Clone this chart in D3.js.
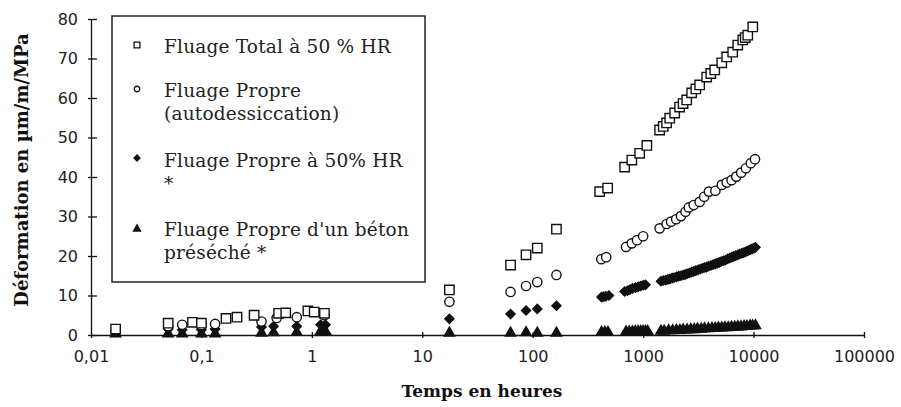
<!DOCTYPE html>
<meta charset="utf-8">
<title>Fluage</title>
<style>
body { margin: 0; background: #fff; }
.tick text { font: 16px "DejaVu Sans", sans-serif; fill: #222; }
.domain, .tick line { stroke: #111; stroke-width: 1.3px; }
.title { font: bold 17px "DejaVu Serif", serif; fill: #111; }
.ytitle { font-size: 18px; }
.leg text { font: 18.5px "DejaVu Serif", serif; fill: #222; letter-spacing: 0.2px; }
</style>
<svg width="901" height="407"></svg>
<script src="https://d3js.org/d3.v7.min.js"></script>
<script>

// Fluage Total à 50 % HR (squares)
var totalT = [0.0167,0.05,0.083,0.1,0.167,0.21,0.3,0.5,0.58,0.92,1.05,1.3,
  17.6,63,87,110,164,404,477,680,790,930,1080,
  1410,1520,1630,1740,1930,2140,2300,2480,2750,3000,3250,3760,4100,4450,5150,5710,6470,7190,7980,8400,8860,9840];
var totalV = [1.5,3,3.2,3,4.2,4.5,5,5.5,5.6,6.1,5.8,5.5,
  11.4,17.7,20.3,22,26.8,36.3,37.2,42.5,44.3,46,48,
  51.9,52.8,53.7,54.9,56.2,57.7,58.6,59.5,61.3,62.3,63.3,65.3,66.2,67.1,68.9,70.4,71.6,73.4,74.7,75.3,75.9,78];

// Fluage Propre (autodessiccation) (circles)
var propreT = [0.0167,0.05,0.067,0.1,0.133,0.35,0.48,0.73,1.3,
  17.6,63,87,110,164,418,463,700,790,880,1000,
  1410,1630,1790,1990,2200,2420,2590,2870,3250,3570,3940,4510,5160,5710,6320,6970,7720,8530,9440,10300];
var propreV = [1.2,2.2,2.6,2.5,2.8,3.4,4.3,4.5,5,
  8.4,10.9,12.4,13.4,15.2,19.2,19.7,22.3,23.2,24,25,
  27,28.1,28.7,29.3,30.1,31.2,32.3,32.9,33.7,35,36.3,36.5,38,38.6,39.2,40.1,41.1,42.2,43.5,44.5];

// Fluage Propre à 50% HR (diamonds)
var hrT = [0.0167,0.05,0.067,0.1,0.133,0.35,0.45,0.73,1.2,1.33,
  17.6,63,87,110,164,420,440,460,490,680,720,760,800,850,900,950,1000,1050,
  1450,1520,1600,1680,1750,1830,1900,2000,2100,2200,2300,2400,2500,2620,2750,2870,3000,3150,3300,3450,3600,3750,3900,4100,4300,4500,4700,4900,5100,5350,5600,5850,6100,6350,6600,6900,7200,7500,7800,8100,8400,8700,9000,9350,9700,10050,10400];
var hrV = [0.8,1.5,1.3,1.3,1.5,2,2.2,2.2,2.6,2.6,
  4.1,5.3,6.2,6.6,7.4,9.6,9.7,9.8,10,11,11.2,11.5,11.8,12,12.2,12.4,12.6,12.7,
  13.6,13.8,13.9,14.1,14.2,14.4,14.5,14.7,14.9,15.0,15.2,15.3,15.5,15.7,15.9,16.1,16.3,16.5,16.7,16.9,17.1,17.2,17.4,17.6,17.8,18.0,18.2,18.4,18.6,18.8,19,19.3,19.5,19.7,19.9,20.1,20.3,20.5,20.7,20.8,21,21.2,21.4,21.6,21.8,22,22.2];

// Fluage Propre d'un béton préséché (triangles)
var secT = [0.0167,0.05,0.067,0.1,0.133,0.35,0.45,0.73,1.2,1.33,
  17.6,63,87,110,164,420,450,480,700,750,800,850,900,950,1000,1050,1100,
  1450,1550,1700,1850,2000,2150,2300,2500,2700,2900,3100,3350,3600,3900,4200,4500,4800,5150,5500,5900,6300,6750,7200,7700,8200,8700,9300,9800,10400];
var secV = [0.3,0.3,0.3,0.3,0.3,0.5,0.6,0.7,0.9,0.9,
  0.5,0.5,0.6,0.5,0.5,0.7,0.7,0.7,0.8,0.8,0.8,0.9,0.9,0.9,0.9,0.9,0.9,
  1.0,1.0,1.1,1.1,1.2,1.2,1.3,1.3,1.4,1.4,1.5,1.5,1.6,1.6,1.7,1.7,1.8,1.8,1.9,1.9,2.0,2.0,2.1,2.1,2.2,2.2,2.3,2.3,2.4];

var xTicks = [0.01,0.1,1,10,100,1000,10000,100000];
var xTickLabels = ["0,01","0,1","1","10","100","1000","10000","100000"];
var yTicks = [0,10,20,30,40,50,60,70,80];

var legendLines = [
  ["Fluage Total à 50 % HR"],
  ["Fluage Propre", "(autodessiccation)"],
  ["Fluage Propre à 50% HR", "*"],
  ["Fluage Propre d'un béton", "préséché *"]
];

var svg = d3.select("svg");

var x = d3.scaleLog().domain([0.01, 100000]).range([91, 864]);
var y = d3.scaleLinear().domain([0, 80]).range([335, 19]);

// axes
var gx = svg.append("g").attr("transform", "translate(0," + y(0) + ")")
  .call(d3.axisBottom(x).tickValues(xTicks).tickSize(0).tickPadding(16)
    .tickFormat(function(d, i) { return xTickLabels[i]; }));
gx.selectAll(".tick line").attr("y1", -3).attr("y2", 3);

var gy = svg.append("g").attr("transform", "translate(" + x(0.01) + ",0)")
  .call(d3.axisLeft(y).tickValues(yTicks).tickSize(0).tickPadding(13));
gy.selectAll(".tick line").attr("x1", -3).attr("x2", 6);

// marker shapes
var shapes = {
  square: { path: d3.symbol(d3.symbolSquare, 88)(), fill: "#fff", rot: 0 },
  circle: { path: d3.symbol(d3.symbolCircle, 68)(), fill: "#fff", rot: 0 },
  diamond: { path: d3.symbol(d3.symbolSquare, 42)(), fill: "#111", rot: 45 },
  triangle: { path: d3.symbol(d3.symbolTriangle, 46)(), fill: "#111", rot: 0 }
};

function plot(ts, vs, shape) {
  var s = shapes[shape];
  svg.append("g").selectAll("path")
    .data(ts.map(function(t, i) { return [t, vs[i]]; }))
    .enter().append("path")
      .attr("d", s.path)
      .attr("fill", s.fill)
      .attr("stroke", "#111")
      .attr("stroke-width", 1.4)
      .attr("transform", function(d) {
        return "translate(" + x(d[0]) + "," + y(d[1]) + ") rotate(" + s.rot + ")";
      });
}

plot(secT, secV, "triangle");
plot(hrT, hrV, "diamond");
plot(propreT, propreV, "circle");
plot(totalT, totalV, "square");

// legend
var leg = svg.append("g").attr("class", "leg");
leg.append("rect")
  .attr("x", 112).attr("y", 16).attr("width", 313).attr("height", 266)
  .attr("fill", "#fff").attr("stroke", "#222").attr("stroke-width", 1.5);

var legShapes = [
  d3.symbol(d3.symbolSquare, 34)(),
  d3.symbol(d3.symbolCircle, 24)(),
  d3.symbol(d3.symbolSquare, 18)(),
  d3.symbol(d3.symbolTriangle, 22)()
];
var legFill = ["#fff", "#fff", "#111", "#111"];
var legRot = [0, 0, 45, 0];
var legMarkY = [45, 89, 158, 229];
var legBase = [53, 97, 167, 236];

legendLines.forEach(function(lines, i) {
  leg.append("path")
    .attr("d", legShapes[i])
    .attr("fill", legFill[i])
    .attr("stroke", "#111")
    .attr("stroke-width", 1.3)
    .attr("transform", "translate(137," + legMarkY[i] + ") rotate(" + legRot[i] + ")");
  lines.forEach(function(txt, j) {
    leg.append("text")
      .attr("x", 164)
      .attr("y", legBase[i] + j * 23)
      .text(txt);
  });
});

// titles
svg.append("text").attr("class", "title")
  .attr("x", 482).attr("y", 397)
  .attr("text-anchor", "middle")
  .text("Temps en heures");

svg.append("text").attr("class", "title ytitle")
  .attr("transform", "translate(28,170) rotate(-90)")
  .attr("text-anchor", "middle")
  .text("Déformation en µm/m/MPa");

</script>
